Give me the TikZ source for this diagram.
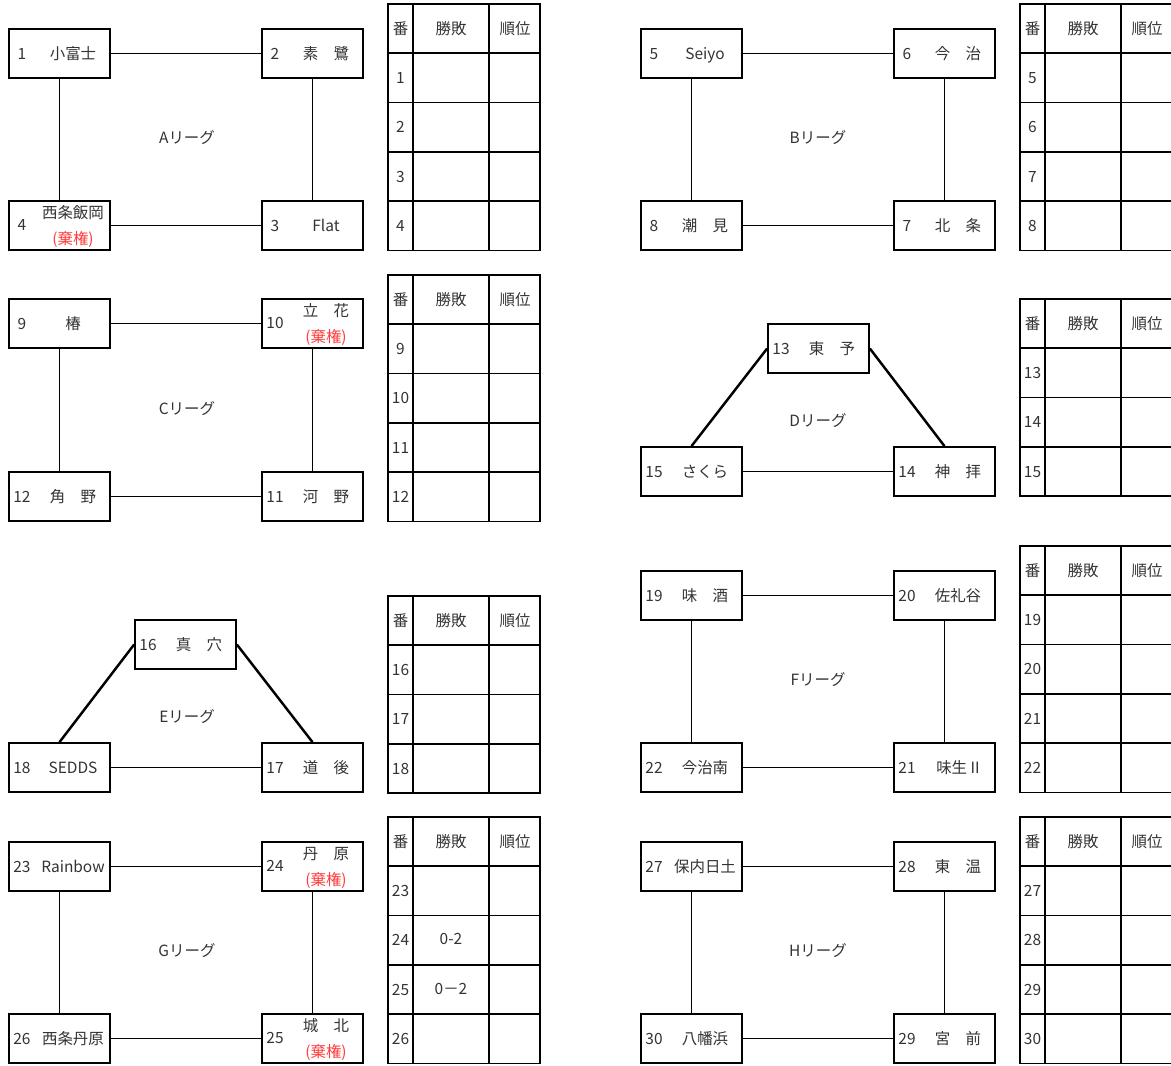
\documentclass[tikz,border=0pt]{standalone}
\usepackage{fontspec}
\setmainfont{Noto Sans CJK JP}
\definecolor{tx}{HTML}{333333}
\definecolor{fr}{HTML}{FF3B3B}
\tikzset{
  tbox/.style={draw=black, line width=1pt, minimum width=2.02cm, minimum height=0.98cm, inner sep=0pt, fill=white},
  txt/.style={text=tx, inner sep=0pt, anchor=base, font=\fontsize{8.8}{10}\selectfont},
  forfeit/.style={text=fr},
  link/.style={line width=1pt},
  diag/.style={line width=1.4pt},
  tline/.style={line width=1pt}
}
% id, left, top, number, name
\newcommand\teamA[5]{%
  \node[tbox] (b#1) at (#2+50.5,#3+24.5) {};
  \node[txt] (n#1) at (#2+13,#3+30) {#4};
  \node[txt] (t#1) at (#2+64,#3+30) {#5};}
\newcommand\teamF[5]{%
  \node[tbox] (b#1) at (#2+50.5,#3+24.5) {};
  \node[txt] (n#1) at (#2+13,#3+29.5) {#4};
  \node[txt] (t#1) at (#2+64,#3+17) {#5};
  \node[txt,forfeit] (r#1) at (#2+64,#3+43) {(棄権)};}
% id, left, top, rows, first number
\newcommand\tbl[5]{%
  \draw[tline] (#2,#3) rectangle (#2+152,#3+49.3*#4+49.3);
  \draw[tline] (#2+25,#3) -- (#2+25,#3+49.3*#4+49.3);
  \draw[tline] (#2+101,#3) -- (#2+101,#3+49.3*#4+49.3);
  \foreach \r in {1,...,#4} {\draw[tline] (#2,#3+49.3*\r) -- (#2+152,#3+49.3*\r);}
  \node[txt] (#1h1) at (#2+12.5,#3+30.2) {番};
  \node[txt] (#1h2) at (#2+63,#3+30.2) {勝敗};
  \node[txt] (#1h3) at (#2+127,#3+30.2) {順位};
  \foreach \r [evaluate=\r as \n using int(#5+\r-1)] in {1,...,#4} {%
    \node[txt] (#1r\r) at (#2+12.5,#3+49.3*\r+30.2) {\n};}
}
\begin{document}
\begin{tikzpicture}[x=0.02cm,y=-0.02cm]
\useasboundingbox[fill=white] (0,0) rectangle (1171,1066);
\clip (0,0) rectangle (1171,1066);

% ---------- A league
\teamA{1}{9}{29}{1}{小富士}
\teamA{2}{262}{29}{2}{素　鷺}
\teamA{3}{262}{201}{3}{Flat}
\teamF{4}{9}{201}{4}{西条飯岡}
\draw[link] (b1) -- (b2);
\draw[link] (b1) -- (b4);
\draw[link] (b2) -- (b3);
\draw[link] (b4) -- (b3);
\node[txt] (la) at (187,143) {Aリーグ};
\tbl{ta}{388}{4}{4}{1}

% ---------- B league
\teamA{5}{641}{29}{5}{Seiyo}
\teamA{6}{894}{29}{6}{今　治}
\teamA{7}{894}{201}{7}{北　条}
\teamA{8}{641}{201}{8}{潮　見}
\draw[link] (b5) -- (b6);
\draw[link] (b5) -- (b8);
\draw[link] (b6) -- (b7);
\draw[link] (b8) -- (b7);
\node[txt] (lb) at (818,143) {Bリーグ};
\tbl{tb}{1020}{4}{4}{5}

% ---------- C league
\teamA{9}{9}{299}{9}{椿}
\teamF{10}{262}{299}{10}{立　花}
\teamA{11}{262}{472}{11}{河　野}
\teamA{12}{9}{472}{12}{角　野}
\draw[link] (b9) -- (b10);
\draw[link] (b9) -- (b12);
\draw[link] (b10) -- (b11);
\draw[link] (b12) -- (b11);
\node[txt] (lc) at (187,414) {Cリーグ};
\tbl{tc}{388}{275}{4}{9}

% ---------- D league
\teamA{13}{768}{324}{13}{東　予}
\teamA{14}{894}{447}{14}{神　拝}
\teamA{15}{641}{447}{15}{さくら}
\draw[diag] (b13.west) -- (b15.north);
\draw[diag] (b13.east) -- (b14.north);
\draw[link] (b15) -- (b14);
\node[txt] (ld) at (818,426) {Dリーグ};
\tbl{td}{1020}{299}{3}{13}

% ---------- E league
\teamA{16}{135}{620}{16}{真　穴}
\teamA{17}{262}{743}{17}{道　後}
\teamA{18}{9}{743}{18}{SEDDS}
\draw[diag] (b16.west) -- (b18.north);
\draw[diag] (b16.east) -- (b17.north);
\draw[link] (b18) -- (b17);
\node[txt] (le) at (187,722) {Eリーグ};
\tbl{te}{388}{596}{3}{16}

% ---------- F league
\teamA{19}{641}{571}{19}{味　酒}
\teamA{20}{894}{571}{20}{佐礼谷}
\teamA{21}{894}{743}{21}{味生 II}
\teamA{22}{641}{743}{22}{今治南}
\draw[link] (b19) -- (b20);
\draw[link] (b19) -- (b22);
\draw[link] (b20) -- (b21);
\draw[link] (b22) -- (b21);
\node[txt] (lf) at (818,685) {Fリーグ};
\tbl{tf}{1020}{546}{4}{19}

% ---------- G league
\teamA{23}{9}{842}{23}{Rainbow}
\teamF{24}{262}{842}{24}{丹　原}
\teamF{25}{262}{1014}{25}{城　北}
\teamA{26}{9}{1014}{26}{西条丹原}
\draw[link] (b23) -- (b24);
\draw[link] (b23) -- (b26);
\draw[link] (b24) -- (b25);
\draw[link] (b26) -- (b25);
\node[txt] (lg) at (187,956) {Gリーグ};
\tbl{tg}{388}{817}{4}{23}
\node[txt] (g24) at (451,944.8) {0-2};
\node[txt] (g25) at (451,994.1) {0－2};

% ---------- H league
\teamA{27}{641}{842}{27}{保内日土}
\teamA{28}{894}{842}{28}{東　温}
\teamA{29}{894}{1014}{29}{宮　前}
\teamA{30}{641}{1014}{30}{八幡浜}
\draw[link] (b27) -- (b28);
\draw[link] (b27) -- (b30);
\draw[link] (b28) -- (b29);
\draw[link] (b30) -- (b29);
\node[txt] (lh) at (818,956) {Hリーグ};
\tbl{th}{1020}{817}{4}{27}
\end{tikzpicture}
\end{document}
